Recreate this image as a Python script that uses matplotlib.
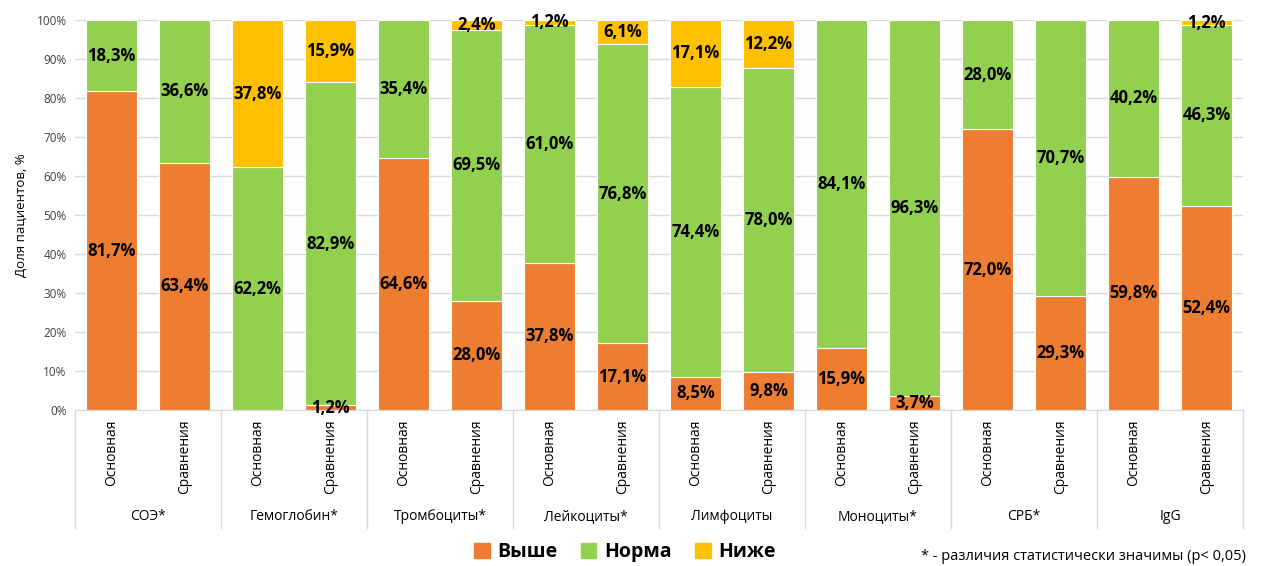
import numpy as np
import matplotlib as mpl
import matplotlib.pyplot as plt
from matplotlib.patches import Patch

mpl.rcParams['font.family'] = ['Open Sans', 'DejaVu Sans']

# Data
groups = ['СОЭ*', 'Гемоглобин*', 'Тромбоциты*', 'Лейкоциты*', 'Лимфоциты', 'Моноциты*', 'СРБ*', 'IgG']
subgroups = ['Основная', 'Сравнения']
above = [81.7, 63.4, 0.0, 1.2, 64.6, 28.0, 37.8, 17.1, 8.5, 9.8, 15.9, 3.7, 72.0, 29.3, 59.8, 52.4]
normal = [18.3, 36.6, 62.2, 82.9, 35.4, 69.5, 61.0, 76.8, 74.4, 78.0, 84.1, 96.3, 28.0, 70.7, 40.2, 46.3]
below = [0.0, 0.0, 37.8, 15.9, 0.0, 2.4, 1.2, 6.1, 17.1, 12.2, 0.0, 0.0, 0.0, 0.0, 0.0, 1.2]
series_names = ['Выше', 'Норма', 'Ниже']
colors = ['#ED7D31', '#92D050', '#FFC000']

W, H = 1261, 566
fig = plt.figure(figsize=(W / 100, H / 100), dpi=100)
ax = fig.add_axes([75 / W, 1 - 410 / H, (1243 - 75) / W, 390 / H])

x = np.arange(len(above))
bottom = np.zeros(len(x))
for vals, col in zip([above, normal, below], colors):
    vals = np.array(vals)
    ax.bar(x, vals, 0.7, bottom=bottom, color=col, edgecolor='white', linewidth=0.8, zorder=2)
    for xi, b, v in zip(x, bottom, vals):
        if v > 0:
            ax.text(xi, b + v / 2, f'{v:.1f}%'.replace('.', ','), ha='center', va='center',
                    fontsize=12, fontweight='bold', color='black', zorder=3)
    bottom += vals

ax.set_xlim(-0.5, len(x) - 0.5)
ax.set_ylim(0, 100)
ax.set_yticks(np.arange(0, 101, 10))
ax.set_yticklabels([f'{t}%' for t in range(0, 101, 10)], fontsize=8.5, color='#404040')
ax.yaxis.grid(True, color='#D9D9D9', linewidth=1, zorder=0)
ax.tick_params(axis='y', length=0, pad=6)
ax.set_xticks([])
for s in ['top', 'right', 'left']:
    ax.spines[s].set_visible(False)
ax.spines['bottom'].set_color('#D9D9D9')
ax.set_ylabel('Доля пациентов, %', fontsize=9.5, color='black', labelpad=6)

# multi-level category axis
trans = mpl.transforms.blended_transform_factory(ax.transData, ax.transAxes)
line_bot = -(528 - 410) / 390
for k in range(len(groups) + 1):
    ax.plot([2 * k - 0.5] * 2, [0, line_bot], transform=trans, color='#D9D9D9',
            linewidth=1, clip_on=False)
for k, g in enumerate(groups):
    ax.text(2 * k + 0.5, -(517 - 410) / 390, g, transform=trans, ha='center', va='center',
            fontsize=10)
    for j, s in enumerate(subgroups):
        ax.text(2 * k + j, -(419 - 410) / 390, s, transform=trans, ha='center', va='top',
                rotation=90, fontsize=10)

handles = [Patch(color=c) for c in colors]
fig.legend(handles, series_names, loc='center', bbox_to_anchor=(625 / W, 1 - 552 / H), ncol=3,
           frameon=False, prop={'size': 14, 'weight': 'bold'}, handlelength=0.8, handleheight=0.8,
           handletextpad=0.4, columnspacing=1.2)

fig.text(921 / W, 1 - 564 / H, '* - различия статистически значимы (p< 0,05)', ha='left', va='bottom',
         fontsize=10.5)

fig.savefig('out.png', dpi=100)
